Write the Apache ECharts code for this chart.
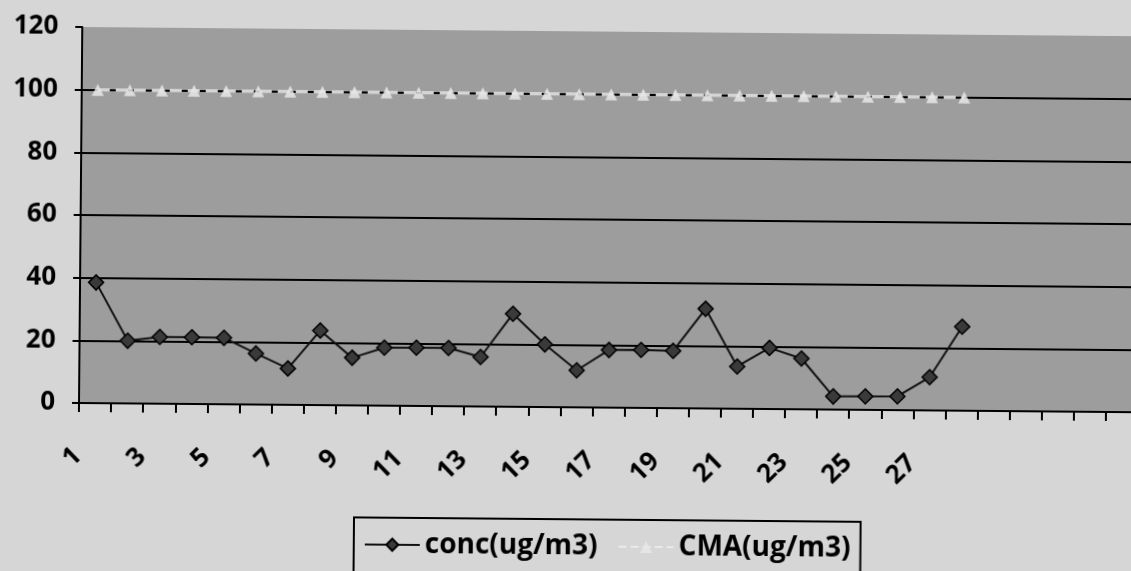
<!DOCTYPE html>
<html>
<head>
<meta charset="utf-8">
<script src="https://cdn.jsdelivr.net/npm/echarts@6/dist/echarts.min.js"></script>
<style>
  html, body { margin: 0; padding: 0; overflow: hidden; background: #d6d6d6; width: 1131px; height: 571px; }
  #chart { width: 1140px; height: 590px; transform: rotate(0.5deg); transform-origin: 79px 403px; }
</style>
</head>
<body>
<div id="chart"></div>
<script>
// categories 1..28 with data; the axis has extra empty slots on the right
const categories = ['1','2','3','4','5','6','7','8','9','10','11','12','13','14','15','16','17','18','19','20','21','22','23','24','25','26','27','28'];
const emptySlots = ['', '', '', '', ''];
const concValues = [38.5, 20, 21.3, 21.3, 21.2, 16.3, 11.6, 23.8, 15.2, 18.5, 18.6, 18.6, 15.8, 29.7, 20, 11.8, 18.4, 18.5, 18.3, 31.8, 13.5, 19.5, 16.2, 4.2, 4.3, 4.4, 10.6, 26.8];
const cmaValues = [100, 100, 100, 100, 100, 100, 100, 100, 100, 100, 100, 100, 100, 100, 100, 100, 100, 100, 100, 100, 100, 100, 100, 100, 100, 100, 100, 100];
const yTicks = { min: 0, max: 120, interval: 20 };
const seriesNames = ['conc(ug/m3)', 'CMA(ug/m3)'];

const chart = echarts.init(document.getElementById('chart'), null, { renderer: 'canvas' });
const font = '"Open Sans", "Noto Sans", sans-serif';
chart.setOption({
  animation: false,
  backgroundColor: '#d6d6d6',
  grid: {
    left: 79, top: 27, bottom: 187, right: 2,
    show: true, backgroundColor: '#9d9d9d', borderWidth: 0
  },
  legend: {
    left: 355, top: 515,
    orient: 'horizontal',
    borderColor: '#000', borderWidth: 2,
    padding: [13, 10, 20, 10],
    itemWidth: 55, itemHeight: 15, itemGap: 20,
    textStyle: { fontSize: 28, fontWeight: 'bold', color: '#000', fontFamily: font },
    data: seriesNames
  },
  xAxis: {
    type: 'category',
    data: categories.concat(emptySlots),
    boundaryGap: true,
    axisLine: { show: true, lineStyle: { color: '#000', width: 2 } },
    axisTick: { show: true, interval: 0, length: 9, lineStyle: { color: '#000', width: 2 } },
    axisLabel: {
      interval: 1, rotate: 45, margin: 32, padding: [0, 24, 0, 0],
      fontSize: 26, fontWeight: 'bold', color: '#000', fontFamily: font
    },
    splitLine: { show: false }
  },
  yAxis: {
    type: 'value',
    min: yTicks.min, max: yTicks.max, interval: yTicks.interval,
    axisLine: { show: true, lineStyle: { color: '#000', width: 2 } },
    axisTick: { show: true, length: 7, lineStyle: { color: '#000', width: 2 } },
    axisLabel: { margin: 24, fontSize: 26, fontWeight: 'bold', color: '#000', fontFamily: font },
    splitLine: { show: true, showMinLine: false, showMaxLine: false, lineStyle: { color: '#000', width: 2 } }
  },
  series: [
    {
      name: seriesNames[1],
      type: 'line',
      data: cmaValues,
      symbol: 'triangle',
      symbolSize: 12,
      z: 3,
      lineStyle: { color: 'rgba(236,236,236,0.9)', width: 3, type: 'dashed' },
      itemStyle: { color: 'rgba(232,232,232,0.85)', borderWidth: 0 }
    },
    {
      name: seriesNames[0],
      type: 'line',
      data: concValues,
      symbol: 'diamond',
      symbolSize: 15,
      z: 4,
      lineStyle: { color: '#111', width: 2 },
      itemStyle: { color: '#3a3a3a', borderColor: '#000', borderWidth: 1.5 }
    }
  ]
});
</script>
</body>
</html>
